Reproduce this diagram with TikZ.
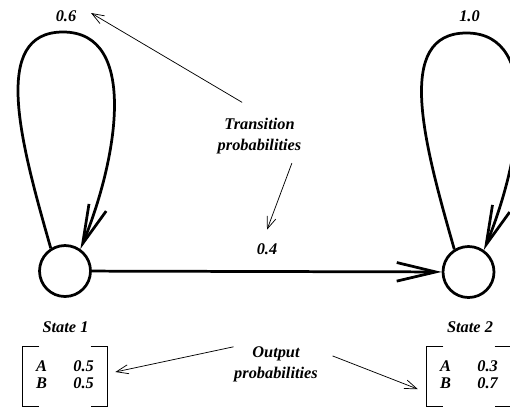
\documentclass[tikz,border=0pt]{standalone}
\usepackage{fontspec}
\setmainfont{Liberation Serif}
\usetikzlibrary{arrows.meta}

\begin{document}
\begin{tikzpicture}[
    state/.style={circle, draw, line width=2.6pt, minimum size=1.7cm, inner sep=0pt},
    trans/.style={line width=2.6pt, -{Straight Barb[length=1.3cm, width=0.62cm]}},
    note/.style={line width=0.7pt, -{Straight Barb[length=0.4cm, width=0.3cm]}},
    bracket/.style={line width=1.1pt},
    outmat/.style={minimum width=2.8cm, minimum height=1.97cm, inner sep=0pt},
    every node/.style={font=\bfseries\itshape\fontsize{15.5pt}{20pt}\selectfont}
]
    \useasboundingbox (0,0) rectangle (17,13.567);
    \clip (0,0) rectangle (17,13.567);

    % the two states
    \node[state] (s1) at (2.167,4.533) {};
    \node[state] (s2) at (15.617,4.5) {};
    \node (st1) at (2.183,2.67) {State 1};
    \node (st2) at (15.667,2.67) {State 2};

    % transition probabilities
    \node (l06) at (2.2,13.033) {0.6};
    \node (l10) at (15.65,13.033) {1.0};
    \node (l04) at (8.9,5.27) {0.4};

    \coordinate (t1) at ([shift={(-0.067,7.967)}]s1.center);
    \coordinate (t2) at ([shift={(-0.067,7.967)}]s2.center);
    \draw[trans] (s1.122) .. controls +(-1.0,3.5) and +(-2.43,0) .. (t1)
        .. controls +(2.57,0) and +(1.2,2.9) .. (s1.55);
    \draw[trans] (s2.122) .. controls +(-1.0,3.5) and +(-2.43,0) .. (t2)
        .. controls +(2.57,0) and +(1.2,2.9) .. (s2.55);
    \draw[trans] (s1) -- (s2);

    \node[align=center] (tp) at (8.65,9.033) {Transition\\probabilities};
    \draw[note] ([shift={(-0.58,0.4)}]tp.north) -- ([shift={(0.37,0.1)}]l06.east);
    \draw[note] ([shift={(1.08,-0.18)}]tp.south) -- ([shift={(0,0.33)}]l04.north);

    % output probabilities
    \node[outmat] (m1) at (2.167,1.017) {\renewcommand\arraystretch{0.8}%
        \begin{tabular}{@{}l@{\hspace{25pt}}l@{}}A & 0.5\\ B & 0.5\end{tabular}};
    \node[outmat] (m2) at (15.633,1.017) {\renewcommand\arraystretch{0.8}%
        \begin{tabular}{@{}l@{\hspace{25pt}}l@{}}A & 0.3\\ B & 0.7\end{tabular}};
    \draw[bracket] ([xshift=0.55cm]m1.north west) -| (m1.south west) -- ++(0.55,0);
    \draw[bracket] ([xshift=-0.55cm]m1.north east) -| (m1.south east) -- ++(-0.55,0);
    \draw[bracket] ([xshift=0.55cm]m2.north west) -| (m2.south west) -- ++(0.55,0);
    \draw[bracket] ([xshift=-0.55cm]m2.north east) -| (m2.south east) -- ++(-0.55,0);

    \node[align=center] (op) at (9.2,1.413) {Output\\probabilities};
    \draw[note] ([shift={(0.1,-0.12)}]op.north west) -- ([shift={(0.27,0.15)}]m1.east);
    \draw[note] ([shift={(0.37,0.29)}]op.east) -- ([shift={(-0.3,-0.42)}]m2.west);
\end{tikzpicture}
\end{document}
